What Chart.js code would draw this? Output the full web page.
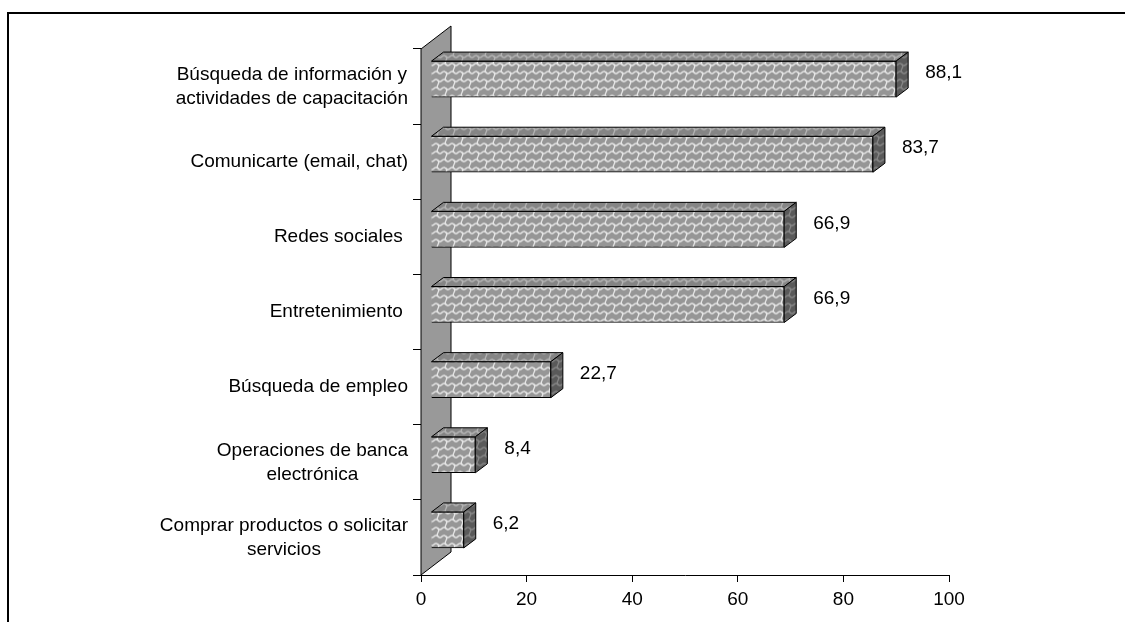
<!DOCTYPE html>
<html>
<head>
<meta charset="utf-8">
<script src="https://cdn.jsdelivr.net/npm/chart.js@4/dist/chart.umd.min.js"></script>
<style>
  body { margin: 0; background: #fff; }
</style>
</head>
<body>
<canvas id="usoChart" width="1125" height="622"></canvas>
<script>
var categorias = [
  ['Búsqueda de información y', 'actividades de capacitación'],
  'Comunicarte (email, chat)',
  'Redes sociales ',
  'Entretenimiento ',
  'Búsqueda de empleo',
  ['Operaciones de banca', 'electrónica'],
  ['Comprar productos o solicitar', 'servicios']
];
var porcentajes = [88.1, 83.7, 66.9, 66.9, 22.7, 8.4, 6.2];
var escalaX = { min: 0, max: 100, paso: 20 };

var fuente = '"Liberation Sans", Arial, sans-serif';
var tam = 19;
var prof = { dx: 12, dy: -9 };      // profundidad de cada barra
var frente = { dx: 10, dy: -7.5 };  // plano frontal de las barras
var pared = { dx: 30, dy: -23 };    // pared del fondo

// trama de ondas entrelazadas para las caras de las barras
function trama(fondo, linea) {
  var c = document.createElement('canvas');
  c.width = 16; c.height = 16;
  var g = c.getContext('2d');
  g.fillStyle = fondo;
  g.fillRect(0, 0, 16, 16);
  g.strokeStyle = linea;
  g.lineWidth = 1.4;
  g.lineCap = 'round';
  for (var r = 0; r < 3; r++) {
    var y0 = r * 8, off = (r % 2) * 8;
    // onda horizontal
    g.beginPath();
    g.moveTo(-16 + off, y0);
    for (var x = -16 + off; x < 32; x += 16) {
      g.bezierCurveTo(x + 4, y0 - 4, x + 4, y0 + 4, x + 8, y0);
      g.bezierCurveTo(x + 12, y0 - 4, x + 12, y0 + 4, x + 16, y0);
    }
    g.stroke();
    // uniones verticales entre ondas
    for (var k = -1; k < 3; k++) {
      var xv = k * 16 + off + 4;
      g.beginPath();
      g.moveTo(xv, y0);
      g.bezierCurveTo(xv + 3, y0 + 3, xv - 3, y0 + 5, xv, y0 + 8);
      g.stroke();
    }
  }
  return g.createPattern(c, 'repeat');
}

var ctx = document.getElementById('usoChart').getContext('2d');
var frentePat = trama('#969696', '#e6e6e6');
var techoPat = trama('#858585', '#b4b4b4');
var ladoPat = trama('#5a5a5a', '#868686');

var barras3d = {
  id: 'barras3d',
  beforeDraw: function(chart) {
    var c = chart.ctx;
    c.save();
    c.fillStyle = '#000';
    c.fillRect(7, 12, 1118, 2);
    c.fillRect(7, 12, 2, 610);
    c.restore();
  },
  beforeDatasetsDraw: function(chart) {
    var a = chart.chartArea, c = chart.ctx;
    c.save();
    c.fillStyle = '#999999';
    c.strokeStyle = '#000';
    c.lineWidth = 1;
    c.beginPath();
    c.moveTo(a.left, a.bottom);
    c.lineTo(a.left + pared.dx, a.bottom + pared.dy);
    c.lineTo(a.left + pared.dx, a.top + pared.dy);
    c.lineTo(a.left, a.top);
    c.closePath();
    c.fill();
    c.stroke();
    c.restore();
    c.save();
    c.translate(frente.dx, frente.dy);
  },
  afterDatasetsDraw: function(chart) {
    var c = chart.ctx;
    var meta = chart.getDatasetMeta(0);
    c.strokeStyle = '#000';
    c.lineWidth = 1;
    meta.data.forEach(function(b, i) {
      var arriba = b.y - b.height / 2, abajo = b.y + b.height / 2;
      // cara superior
      c.beginPath();
      c.moveTo(b.base, arriba);
      c.lineTo(b.base + prof.dx, arriba + prof.dy);
      c.lineTo(b.x + prof.dx, arriba + prof.dy);
      c.lineTo(b.x, arriba);
      c.closePath();
      c.fillStyle = techoPat;
      c.fill();
      c.stroke();
      // cara lateral
      c.beginPath();
      c.moveTo(b.x, arriba);
      c.lineTo(b.x + prof.dx, arriba + prof.dy);
      c.lineTo(b.x + prof.dx, abajo + prof.dy);
      c.lineTo(b.x, abajo);
      c.closePath();
      c.fillStyle = ladoPat;
      c.fill();
      c.stroke();
      // valor
      c.fillStyle = '#000';
      c.font = tam + 'px ' + fuente;
      c.textAlign = 'left';
      c.textBaseline = 'middle';
      c.fillText(porcentajes[i].toFixed(1).replace('.', ','), b.x + 29, b.y - 6);
    });
    c.restore();
  },
  afterDraw: function(chart) {
    var c = chart.ctx, ys = chart.scales.y;
    c.save();
    c.fillStyle = '#000';
    c.font = tam + 'px ' + fuente;
    c.textAlign = 'center';
    c.textBaseline = 'middle';
    categorias.forEach(function(lab, i) {
      var lineas = Array.isArray(lab) ? lab : [lab];
      var ancho = Math.max.apply(null, lineas.map(function(l) { return c.measureText(l).width; }));
      var xc = ys.right - 13 - ancho / 2;
      var yc = ys.getPixelForValue(i);
      lineas.forEach(function(l, k) {
        c.fillText(l, xc, yc + (k - (lineas.length - 1) / 2) * 24);
      });
    });
    c.restore();
  }
};

var usoChart = new Chart(ctx, {
  type: 'bar',
  data: {
    labels: categorias,
    datasets: [{
      data: porcentajes,
      backgroundColor: frentePat,
      borderColor: '#000',
      borderWidth: 1,
      barThickness: 36,
      clip: false
    }]
  },
  options: {
    responsive: false,
    animation: false,
    indexAxis: 'y',
    layout: { padding: { top: 49, right: 176, left: 0, bottom: 0 } },
    plugins: {
      legend: { display: false },
      tooltip: { enabled: false }
    },
    scales: {
      x: {
        min: escalaX.min,
        max: escalaX.max,
        ticks: { stepSize: escalaX.paso, color: '#000', padding: 6, maxRotation: 0, font: { family: fuente, size: tam } },
        grid: { drawOnChartArea: false, drawTicks: true, tickLength: 7, color: '#000' },
        border: { display: true, color: '#000', width: 1 },
        afterFit: function(s) { s.height = 47; }
      },
      y: {
        ticks: { display: false },
        grid: { drawOnChartArea: false, drawTicks: true, tickLength: 8, color: '#000', offset: true },
        border: { display: true, color: '#000', width: 1 },
        afterFit: function(s) { s.width = 421; }
      }
    }
  },
  plugins: [barras3d]
});
</script>
</body>
</html>
